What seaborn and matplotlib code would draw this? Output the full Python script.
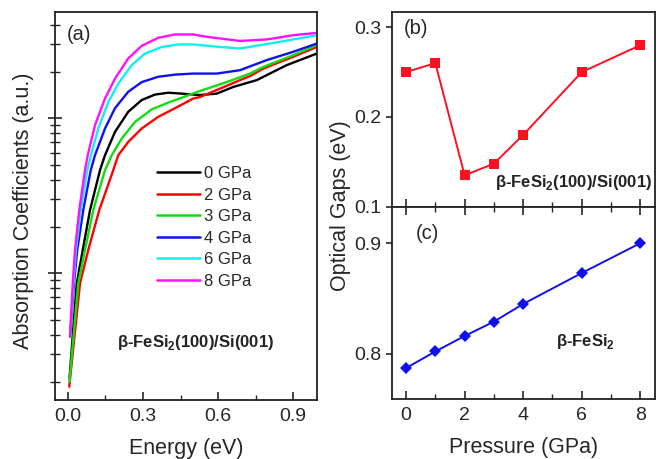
import matplotlib
matplotlib.use("Agg")
import matplotlib.pyplot as plt
import matplotlib.ticker as mticker
import pandas as pd
import seaborn as sns

# ---- (a) absorption spectra: photon energy (eV) vs alpha (10^4 cm^-1) ----
energy_0 = [0.006, 0.035, 0.059, 0.088, 0.128, 0.148, 0.188, 0.241, 0.295, 0.348, 0.401,
            0.455, 0.528, 0.595, 0.661, 0.728, 0.755, 0.875, 0.995]
alpha_0 = [0.21, 0.86, 1.41, 2.55, 4.62, 5.77, 8.16, 11.0, 13.1, 14.2, 14.6,
           14.4, 14.1, 14.4, 15.9, 17.1, 17.6, 22.0, 26.1]

energy_2 = [0.005, 0.048, 0.081, 0.125, 0.181, 0.201, 0.241, 0.295, 0.361, 0.428, 0.501,
            0.528, 0.608, 0.688, 0.728, 0.781, 0.901, 0.995]
alpha_2 = [0.185, 0.86, 1.41, 2.55, 4.62, 5.77, 7.03, 8.58, 10.2, 11.6, 13.4,
           13.7, 15.5, 17.6, 18.7, 20.9, 24.9, 28.8]

energy_3 = [0.006, 0.041, 0.068, 0.101, 0.148, 0.175, 0.215, 0.268, 0.335, 0.401, 0.468,
            0.508, 0.555, 0.635, 0.728, 0.781, 0.901, 0.995]
alpha_3 = [0.20, 0.86, 1.41, 2.55, 4.62, 5.77, 7.39, 9.46, 11.4, 12.6, 13.8,
           14.6, 15.5, 17.1, 19.4, 21.4, 25.5, 29.6]

energy_4 = [0.008, 0.024, 0.037, 0.061, 0.091, 0.108, 0.148, 0.188, 0.241, 0.295, 0.361,
            0.428, 0.501, 0.595, 0.688, 0.795, 0.901, 0.995]
alpha_4 = [0.39, 0.86, 1.41, 2.55, 4.62, 5.77, 8.58, 11.6, 14.8, 17.1, 18.5,
           19.1, 19.4, 19.4, 20.4, 23.7, 26.8, 30.3]

energy_6 = [0.008, 0.022, 0.032, 0.051, 0.077, 0.092, 0.121, 0.161, 0.201, 0.255, 0.308,
            0.375, 0.441, 0.501, 0.608, 0.688, 0.715, 0.848, 0.995]
alpha_6 = [0.39, 0.86, 1.41, 2.55, 4.62, 5.77, 8.58, 12.7, 16.7, 22.0, 26.1,
           28.8, 29.9, 29.9, 28.8, 28.2, 28.6, 31.1, 34.3]

energy_8 = [0.008, 0.019, 0.028, 0.045, 0.068, 0.079, 0.108, 0.148, 0.188, 0.241, 0.295,
            0.361, 0.428, 0.501, 0.555, 0.688, 0.795, 0.901, 0.995]
alpha_8 = [0.39, 0.86, 1.41, 2.55, 4.62, 5.77, 9.01, 13.4, 18.0, 24.3, 29.3,
           33.0, 34.7, 34.7, 33.5, 31.5, 32.2, 34.3, 35.5]

spectra_labels = ["0 GPa", "2 GPa", "3 GPa", "4 GPa", "6 GPa", "8 GPa"]
spectra_colors = ["#000000", "#ff0000", "#10dd10", "#1010f0", "#10eeee", "#ff10ff"]

# ---- (b), (c) optical gaps vs pressure ----
pressure = [0, 1, 2, 3, 4, 6, 8]
gap_film = [0.250, 0.260, 0.135, 0.148, 0.180, 0.250, 0.280]
gap_bulk = [0.787, 0.802, 0.816, 0.829, 0.845, 0.873, 0.900]

spectra = pd.concat(
    [pd.DataFrame({"energy": e, "alpha": a, "pressure": lab})
     for e, a, lab in zip([energy_0, energy_2, energy_3, energy_4, energy_6, energy_8],
                          [alpha_0, alpha_2, alpha_3, alpha_4, alpha_6, alpha_8],
                          spectra_labels)],
    ignore_index=True,
)
gaps = pd.DataFrame({"pressure": pressure, "film": gap_film, "bulk": gap_bulk})

sns.set_style("ticks")
plt.rcParams["font.family"] = ["Liberation Sans", "DejaVu Sans"]
plt.rcParams["mathtext.fontset"] = "custom"
plt.rcParams["mathtext.rm"] = "Liberation Sans"
plt.rcParams["mathtext.bf"] = "Liberation Sans:bold"
plt.rcParams["axes.linewidth"] = 1.3
plt.rcParams["axes.edgecolor"] = "#222222"
plt.rcParams["lines.solid_joinstyle"] = "round"

TICK_FS = 14
LABEL_FS = 15.5
NOTE_FS = 12

fig = plt.figure(figsize=(6.65, 4.59), dpi=100)
ax_a = fig.add_axes([0.0827, 0.1285, 0.394, 0.845])
ax_b = fig.add_axes([0.589, 0.5497, 0.3955, 0.4242])
ax_c = fig.add_axes([0.589, 0.1307, 0.3955, 0.4190], sharex=ax_b)

# ---- panel (a) ----
sns.lineplot(data=spectra, x="energy", y="alpha", hue="pressure",
             palette=dict(zip(spectra_labels, spectra_colors)),
             hue_order=spectra_labels, sort=False, linewidth=1.7, ax=ax_a)
ax_a.set_yscale("log")
ax_a.set_xlim(-0.052, 0.996)
ax_a.set_ylim(0.152, 48.3)
ax_a.xaxis.set_major_locator(mticker.FixedLocator([0.0, 0.3, 0.6, 0.9]))
ax_a.xaxis.set_minor_locator(mticker.FixedLocator([0.15, 0.45, 0.75]))
ax_a.xaxis.set_major_formatter(mticker.FormatStrFormatter("%.1f"))
ax_a.yaxis.set_major_locator(mticker.LogLocator(base=10, numticks=10))
ax_a.yaxis.set_minor_locator(mticker.LogLocator(base=10, subs=range(2, 10), numticks=20))
ax_a.yaxis.set_major_formatter(mticker.NullFormatter())
ax_a.yaxis.set_minor_formatter(mticker.NullFormatter())
ax_a.tick_params(axis="x", which="major", direction="in", length=6, width=1.2,
                 labelsize=TICK_FS, pad=6)
ax_a.tick_params(axis="x", which="minor", direction="in", length=3.5, width=1.0)
ax_a.tick_params(axis="y", which="major", direction="inout", length=10, width=1.2)
ax_a.tick_params(axis="y", which="minor", direction="inout", length=7, width=1.0)
ax_a.set_xlabel("Energy (eV)", fontsize=LABEL_FS, labelpad=9)
ax_a.set_ylabel("")
leg = ax_a.legend(loc="upper left", bbox_to_anchor=(0.389, 0.603), frameon=False,
                  fontsize=12, handlelength=2.6, handletextpad=0.2,
                  labelspacing=0.39, borderpad=0, borderaxespad=0)
for line in leg.get_lines():
    line.set_linewidth(1.8)
ax_a.text(0.045, 0.968, "(a)", transform=ax_a.transAxes, fontsize=14.5,
          ha="left", va="top")
ax_a.text(0.535, 0.148, r"β-FeSi$_\mathbf{2}$(100)/Si(001)", transform=ax_a.transAxes,
          fontsize=NOTE_FS, fontweight="bold", color="#222222", ha="center", va="center")
fig.text(0.036, 0.54, "Absorption Coefficients (a.u.)", rotation=90,
         fontsize=LABEL_FS, ha="center", va="center")

# ---- panel (b) ----
sns.lineplot(data=gaps, x="pressure", y="film", color="#ff1020", marker="s",
             markersize=6.5, markeredgewidth=0, linewidth=1.4, ax=ax_b)
ax_b.set_ylim(0.1, 0.317)
ax_b.set_yticks([0.1, 0.2, 0.3])
ax_b.yaxis.set_major_formatter(mticker.FormatStrFormatter("%.1f"))
ax_b.set_xlabel("")
ax_b.set_ylabel("")
ax_b.tick_params(axis="x", which="both", labelbottom=False)
ax_b.text(0.045, 0.965, "(b)", transform=ax_b.transAxes, fontsize=14.5,
          ha="left", va="top")
ax_b.text(0.99, 0.125, r"β-FeSi$_\mathbf{2}$(100)/Si(001)", transform=ax_b.transAxes,
          fontsize=NOTE_FS, fontweight="bold", color="#222222", ha="right", va="center")

# ---- panel (c) ----
sns.lineplot(data=gaps, x="pressure", y="bulk", color="#1010ee", marker="D",
             markersize=6.5, markeredgewidth=0, linewidth=1.4, ax=ax_c)
ax_c.set_xlim(-0.49, 8.49)
ax_c.set_ylim(0.759, 0.933)
ax_c.set_yticks([0.8, 0.9])
ax_c.yaxis.set_major_formatter(mticker.FormatStrFormatter("%.1f"))
ax_c.xaxis.set_major_locator(mticker.FixedLocator([0, 2, 4, 6, 8]))
ax_c.xaxis.set_minor_locator(mticker.FixedLocator([1, 3, 5, 7]))
ax_c.set_ylabel("")
ax_c.set_xlabel("Pressure (GPa)", fontsize=LABEL_FS, labelpad=9)
ax_c.text(0.09, 0.86, "(c)", transform=ax_c.transAxes, fontsize=14.5,
          ha="left", va="center")
ax_c.text(0.735, 0.30, r"β-FeSi$_\mathbf{2}$", transform=ax_c.transAxes,
          fontsize=NOTE_FS, fontweight="bold", color="#222222", ha="center", va="center")
fig.text(0.512, 0.553, "Optical Gaps (eV)", rotation=90, fontsize=LABEL_FS,
         ha="center", va="center")

for ax in (ax_b, ax_c):
    ax.tick_params(axis="y", which="major", direction="out", length=4, width=1.2,
                   labelsize=TICK_FS)
    ax.tick_params(axis="x", which="major", direction="in", length=6, width=1.2,
                   labelsize=TICK_FS, top=True, pad=6)
    ax.tick_params(axis="x", which="minor", direction="in", length=3.5, width=1.0,
                   top=True)
ax_c.tick_params(axis="x", which="both", labeltop=False)
ax_b.tick_params(axis="x", which="both", top=False)

fig.savefig("out.png", dpi=100)
